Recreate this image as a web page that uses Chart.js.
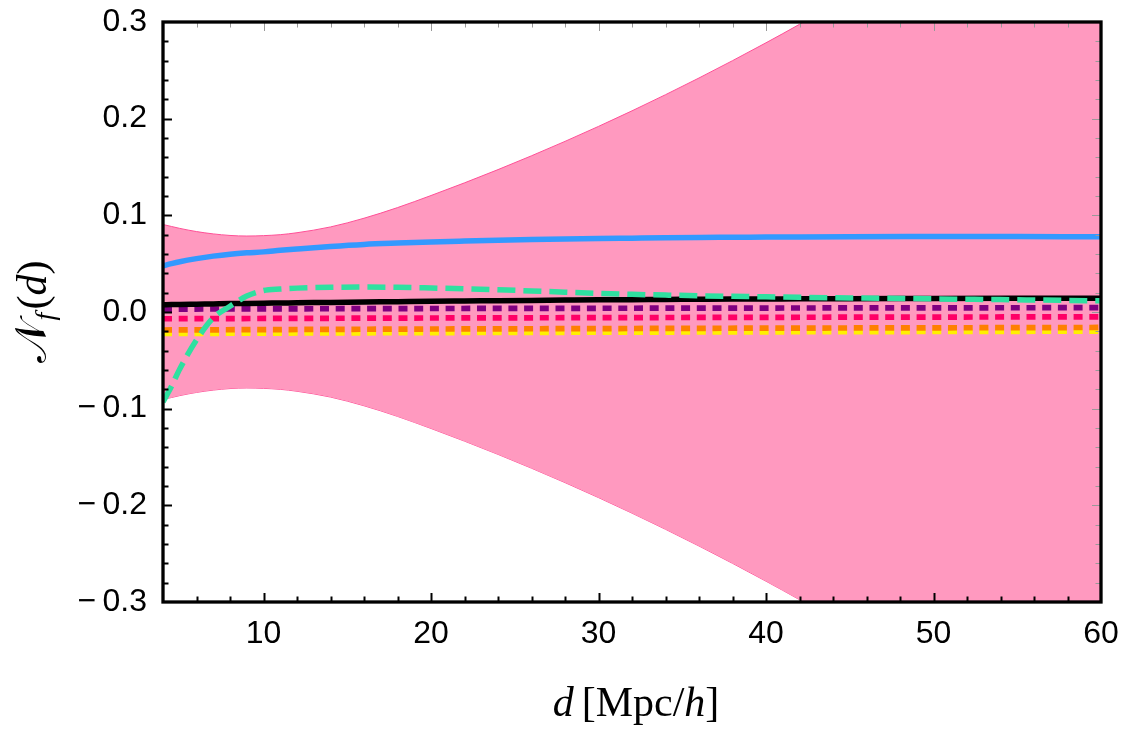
<!DOCTYPE html>
<html lang="en">
<head>
  <meta charset="UTF-8">
  <title>N_f(d)</title>
  <script src="https://cdn.jsdelivr.net/npm/chart.js"></script>
  <style>
    html, body { margin: 0; padding: 0; background: #ffffff; }
    #wrap { width: 1125px; height: 734px; position: relative; }
  </style>
  <script>
    let chart;

    // d in Mpc/h
    const distances = [4, 4.5, 5, 6, 7, 8, 9, 10, 11, 12, 14, 16, 18, 20, 22, 24, 26, 28, 30, 32, 34, 36, 38, 40, 42, 45, 50, 55, 60];
    // half width of the pink band (symmetric around 0)
    const bandHalfWidth = [0.0905, 0.0885, 0.0865, 0.0832, 0.0808, 0.0792, 0.0786, 0.0790, 0.0800, 0.0820, 0.0880, 0.0970, 0.1080, 0.1205, 0.1336, 0.1473, 0.1616, 0.1765, 0.1920, 0.2081, 0.2248, 0.2421, 0.2600, 0.2785, 0.2976, 0.3276, 0.383, 0.443, 0.508];
    const blueCurve = [0.0478, 0.0500, 0.0520, 0.0552, 0.0578, 0.0598, 0.0612, 0.0622, 0.0638, 0.0652, 0.0678, 0.0699, 0.0713, 0.0725, 0.0734, 0.0742, 0.0749, 0.0755, 0.0760, 0.0764, 0.0768, 0.0771, 0.0773, 0.0775, 0.0777, 0.0779, 0.0780, 0.0780, 0.0779];
    const blackCurve = [0.0075, 0.0077, 0.0078, 0.0081, 0.0084, 0.0087, 0.0089, 0.0091, 0.0093, 0.0095, 0.0099, 0.0103, 0.0107, 0.0111, 0.0114, 0.0117, 0.0120, 0.0123, 0.0126, 0.0128, 0.0130, 0.0132, 0.0134, 0.0135, 0.0136, 0.0138, 0.0140, 0.0142, 0.0143];
    const greenCurve = [-0.093, -0.077, -0.059, -0.029, -0.006, 0.006, 0.0165, 0.0222, 0.0238, 0.0247, 0.0256, 0.0258, 0.0255, 0.0248, 0.0240, 0.0230, 0.0218, 0.0205, 0.0193, 0.0183, 0.0175, 0.0168, 0.0162, 0.0157, 0.0152, 0.0146, 0.0136, 0.0126, 0.0116];

    // nearly flat dotted lines
    const flatDistances = [4, 20, 40, 60];
    const purpleFlat = [0.0030, 0.0036, 0.0041, 0.0045];
    const crimsonFlat = [-0.0070, -0.0062, -0.0055, -0.0050];
    const orangeFlat = [-0.0186, -0.0176, -0.0167, -0.0160];
    const yellowFlat = [-0.0222, -0.0213, -0.0205, -0.0198];

    const xTickValues = [10, 20, 30, 40, 50, 60];
    const yTickValues = [-0.3, -0.2, -0.1, 0.0, 0.1, 0.2, 0.3];

    function points(xs, ys) {
      return xs.map((x, i) => ({ x: x, y: ys[i] }));
    }

    const frameAndTicks = {
      id: 'frameAndTicks',
      afterDraw(c) {
        const ctx = c.ctx;
        const a = c.chartArea;
        const xs = c.scales.x;
        const ys = c.scales.y;
        ctx.save();
        ctx.lineCap = 'butt';

        const xMinor = [];
        for (let v = 6; v < 60; v += 2) if (v % 10 !== 0) xMinor.push(v);
        const yMinor = [];
        for (let i = -14; i <= 14; i++) if (i % 5 !== 0) yMinor.push(i * 0.02);

        function ticksX(vals, len, y0, dir, color, w) {
          ctx.strokeStyle = color; ctx.lineWidth = w;
          vals.forEach(v => {
            const px = Math.round(xs.getPixelForValue(v)) + 0.5;
            ctx.beginPath(); ctx.moveTo(px, y0); ctx.lineTo(px, y0 + dir * len); ctx.stroke();
          });
        }
        function ticksY(vals, len, x0, dir, color, w) {
          ctx.strokeStyle = color; ctx.lineWidth = w;
          vals.forEach(v => {
            const py = Math.round(ys.getPixelForValue(v)) + 0.5;
            ctx.beginPath(); ctx.moveTo(x0, py); ctx.lineTo(x0 + dir * len, py); ctx.stroke();
          });
        }
        const yMajor = yTickValues.slice(1, -1);
        // bottom + left: black
        ticksX(xTickValues.slice(0, -1), 9, a.bottom, -1, '#000', 2);
        ticksX(xMinor, 5.5, a.bottom, -1, '#000', 2);
        ticksY(yMajor, 9, a.left, 1, '#000', 2);
        ticksY(yMinor, 5.5, a.left, 1, '#000', 2);
        // top + right: light grey
        ticksX(xTickValues.slice(0, -1), 9, a.top, 1, '#999', 1);
        ticksX(xMinor, 5.5, a.top, 1, '#999', 1);
        ticksY(yMajor, 9, a.right, -1, '#999', 1);
        ticksY(yMinor, 5.5, a.right, -1, '#999', 1);

        // frame
        ctx.strokeStyle = '#000';
        ctx.lineWidth = 3.3;
        ctx.strokeRect(a.left, a.top, a.right - a.left, a.bottom - a.top);

        // axis titles
        function drawParts(parts, cx, baseY) {
          let total = 0;
          parts.forEach(p => { ctx.font = p.font; p.w = ctx.measureText(p.t).width + (p.gap || 0); total += p.w; });
          let x = cx - total / 2;
          parts.forEach(p => {
            ctx.font = p.font;
            ctx.fillText(p.t, x, baseY + (p.dy || 0));
            x += p.w;
          });
        }
        ctx.fillStyle = '#000';
        ctx.textBaseline = 'alphabetic';
        ctx.textAlign = 'left';
        const serif = "'Liberation Serif', 'DejaVu Serif', serif";
        drawParts([
          { t: 'd', font: 'italic 42px ' + serif, gap: 8 },
          { t: '[Mpc/', font: '42px ' + serif },
          { t: 'h', font: 'italic 42px ' + serif },
          { t: ']', font: '42px ' + serif }
        ], (a.left + a.right) / 2 + 4, 716);

        ctx.save();
        ctx.translate(46, (a.top + a.bottom) / 2);
        ctx.rotate(-Math.PI / 2);
        drawParts([
          { t: '\u{1D4A9}', font: '44px ' + serif, gap: 1 },
          { t: 'f', font: 'italic 28px ' + serif, dy: 8, gap: 3 },
          { t: '(', font: '42px ' + serif },
          { t: 'd', font: 'italic 42px ' + serif },
          { t: ')', font: '42px ' + serif }
        ], 0, 0);
        ctx.restore();

        ctx.restore();
      }
    };

    function lineSet(data, color, width, order, extra) {
      return Object.assign({
        data: data,
        borderColor: color,
        backgroundColor: color,
        borderWidth: width,
        pointRadius: 0,
        fill: false,
        cubicInterpolationMode: 'monotone',
        borderCapStyle: 'butt',
        order: order
      }, extra || {});
    }

    function initializeChart() {
      const ctx = document.getElementById('myChart').getContext('2d');
      const lowerBand = bandHalfWidth.map(v => -v);
      chart = new Chart(ctx, {
        type: 'line',
        data: {
          datasets: [
            lineSet(points(distances, bandHalfWidth), '#ff4f96', 1, 20, { fill: { target: 1 }, backgroundColor: '#ff99bf' }),
            lineSet(points(distances, lowerBand), '#ff4f96', 1, 21),
            lineSet(points(flatDistances, yellowFlat), '#fff000', 5.7, 9, { borderDash: [9, 6.7], cubicInterpolationMode: 'default' }),
            lineSet(points(flatDistances, orangeFlat), '#ff8000', 5.7, 8, { borderDash: [9, 6.7], cubicInterpolationMode: 'default' }),
            lineSet(points(flatDistances, crimsonFlat), '#ff0066', 5.7, 7, { borderDash: [9, 6.7], cubicInterpolationMode: 'default' }),
            lineSet(points(flatDistances, purpleFlat), '#800080', 5.7, 6, { borderDash: [9, 6.7], cubicInterpolationMode: 'default' }),
            lineSet(points(distances, blackCurve), '#000000', 5.5, 3),
            lineSet(points(distances, blueCurve), '#3399ff', 5.5, 2),
            lineSet(points(distances, greenCurve), '#2fe0a0', 5.5, 1, { borderDash: [18, 8] })
          ]
        },
        options: {
          responsive: true,
          maintainAspectRatio: false,
          animation: false,
          layout: { padding: { left: 0, top: 22, right: 24, bottom: 0 } },
          plugins: { legend: { display: false }, tooltip: { enabled: false } },
          scales: {
            x: {
              type: 'linear',
              min: 4,
              max: 60,
              grid: { display: false, drawTicks: false },
              border: { display: false },
              afterBuildTicks: s => { s.ticks = xTickValues.map(v => ({ value: v })); },
              afterFit: s => { s.height = 132; s.paddingLeft = 0; s.paddingRight = 0; },
              ticks: {
                padding: 13,
                maxRotation: 0,
                color: '#000',
                font: { family: "'Liberation Sans', Arial, sans-serif", size: 32 },
                callback: v => String(v)
              }
            },
            y: {
              type: 'linear',
              min: -0.3,
              max: 0.3,
              grid: { display: false, drawTicks: false },
              border: { display: false },
              afterBuildTicks: s => { s.ticks = yTickValues.map(v => ({ value: v })); },
              afterFit: s => { s.width = 163; s.paddingTop = 0; s.paddingBottom = 0; },
              ticks: {
                padding: 16,
                color: '#000',
                font: { family: "'Liberation Sans', Arial, sans-serif", size: 32 },
                callback: v => (v < -1e-9 ? '\u2212\u2009' : '') + Math.abs(v).toFixed(1)
              }
            }
          }
        },
        plugins: [frameAndTicks]
      });
    }

    window.onload = function () {
      initializeChart();
    };
  </script>
</head>
<body>
  <div id="wrap">
    <canvas id="myChart"></canvas>
  </div>
</body>
</html>
